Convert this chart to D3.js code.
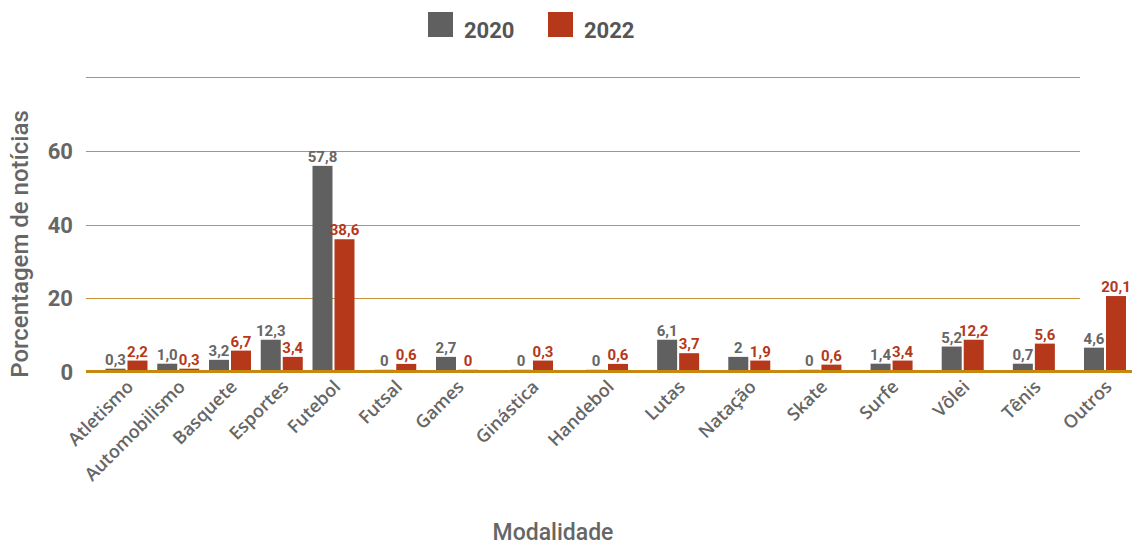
<!DOCTYPE html>
<html>
<head>
<meta charset="utf-8">
<script src="https://cdn.jsdelivr.net/npm/d3@7"></script>
<style>
  html, body { margin: 0; padding: 0; background: #fff; }
  svg { display: block; }
</style>
</head>
<body>
<svg id="chart" width="1132" height="545"></svg>
<script>
// ---- data ----
const categories = ["Atletismo","Automobilismo","Basquete","Esportes","Futebol","Futsal","Games","Ginástica","Handebol","Lutas","Natação","Skate","Surfe","Vôlei","Tênis","Outros"];
const seriesNames = ["2020","2022"];
// bar heights as drawn in the reference picture
const bars2020 = [0.9, 2.25, 3.3, 8.75, 55.9, 0.6, 4.1, 0.6, 0.6, 8.75, 4.1, 0.6, 2.25, 6.9, 2.25, 6.6];
const bars2022 = [3.1, 0.9, 5.8, 4.1, 36.0, 2.2, 0.6, 3.1, 2.2, 5.1, 3.1, 2.0, 3.1, 8.75, 7.7, 20.6];
// value labels printed above bars
const labels2020 = ["0,3","1,0","3,2","12,3","57,8","0","2,7","0","0","6,1","2","0","1,4","5,2","0,7","4,6"];
const labels2022 = ["2,2","0,3","6,7","3,4","38,6","0,6","0","0,3","0,6","3,7","1,9","0,6","3,4","12,2","5,6","20,1"];
const yTickValues = [0, 20, 40, 60];
const gridValues = [20, 40, 60, 80];
const yTitle = "Porcentagem de notícias";
const xTitle = "Modalidade";

// ---- styles ----
const colors = { "2020": "#606060", "2022": "#b5381a" };
const labelColors = { "2020": "#666666", "2022": "#b5381a" };
const textGray = "#666666";

const svg = d3.select("#chart");

// scales
const idxScale = d3.scaleLinear().domain([0, 4, 6, 8, 15]).range([126.5, 333.5, 457, 607, 1105]);
const x = d => idxScale(categories.indexOf(d));
const y = d3.scaleLinear().domain([0, 80]).range([372, 77]);
const barW = 20, barGap = 1;

// gridlines
svg.append("g").selectAll("line").data(gridValues).join("line")
  .attr("x1", 86).attr("x2", 1080)
  .attr("y1", d => Math.round(y(d)) + 0.5).attr("y2", d => Math.round(y(d)) + 0.5)
  .attr("stroke", "#c8913a").attr("stroke-width", 1.2);

// y tick labels
svg.append("g").selectAll("text").data(yTickValues).join("text")
  .attr("x", 73).attr("y", d => y(d) + 8)
  .attr("text-anchor", "end")
  .attr("font-family", "Roboto, sans-serif").attr("font-weight", 700).attr("font-size", 22)
  .attr("fill", textGray)
  .text(d => d);

// bars
const rows = categories.map((c, i) => ({ c, v2020: bars2020[i], v2022: bars2022[i], l2020: labels2020[i], l2022: labels2022[i] }));
const gBars = svg.append("g");
gBars.selectAll("rect.s2020").data(rows).join("rect")
  .attr("x", d => x(d.c) - barW - barGap).attr("width", barW)
  .attr("y", d => y(d.v2020)).attr("height", d => y(0) - y(d.v2020))
  .attr("fill", colors["2020"]);
gBars.selectAll("rect.s2022").data(rows).join("rect")
  .attr("x", d => x(d.c) + barGap).attr("width", barW)
  .attr("y", d => y(d.v2022)).attr("height", d => y(0) - y(d.v2022))
  .attr("fill", colors["2022"]);

// value labels
const gLab = svg.append("g").attr("font-family", "Roboto, sans-serif").attr("font-weight", 700).attr("font-size", 15).attr("text-anchor", "middle");
gLab.selectAll("text.l2020").data(rows).join("text")
  .attr("x", d => x(d.c) - barGap - barW / 2).attr("y", d => y(d.v2020) - 4)
  .attr("fill", labelColors["2020"]).text(d => d.l2020);
gLab.selectAll("text.l2022").data(rows).join("text")
  .attr("x", d => x(d.c) + barGap + barW / 2).attr("y", d => y(d.v2022) - 4)
  .attr("fill", labelColors["2022"]).text(d => d.l2022);

// baseline
svg.append("line").attr("x1", 86).attr("x2", 1132).attr("y1", y(0) - 0.5).attr("y2", y(0) - 0.5)
  .attr("stroke", "#c8870f").attr("stroke-width", 3);

// category labels
svg.append("g").selectAll("text").data(categories).join("text")
  .attr("transform", d => `translate(${x(d) + 8},${388}) rotate(-45)`)
  .attr("text-anchor", "end")
  .attr("font-family", "'Open Sans', sans-serif").attr("font-weight", 600).attr("font-size", 18)
  .attr("fill", textGray)
  .text(d => d);

// axis titles
svg.append("text")
  .attr("transform", "translate(28,244) rotate(-90)")
  .attr("text-anchor", "middle")
  .attr("font-family", "Roboto, sans-serif").attr("font-weight", 500).attr("font-size", 24)
  .attr("fill", textGray).text(yTitle);
svg.append("text")
  .attr("x", 553).attr("y", 540).attr("text-anchor", "middle")
  .attr("font-family", "Roboto, sans-serif").attr("font-weight", 500).attr("font-size", 23)
  .attr("fill", textGray).text(xTitle);

// legend
const legendX = d3.scalePoint().domain(seriesNames).range([428, 548]);
const lg = svg.append("g").selectAll("g").data(seriesNames).join("g")
  .attr("transform", d => `translate(${legendX(d)},12)`);
lg.append("rect").attr("width", 25).attr("height", 25).attr("fill", d => colors[d]);
lg.append("text").attr("x", 36).attr("y", 26)
  .attr("font-family", "Roboto, sans-serif").attr("font-weight", 700).attr("font-size", 22)
  .attr("fill", "#555555").text(d => d);
</script>
</body>
</html>
